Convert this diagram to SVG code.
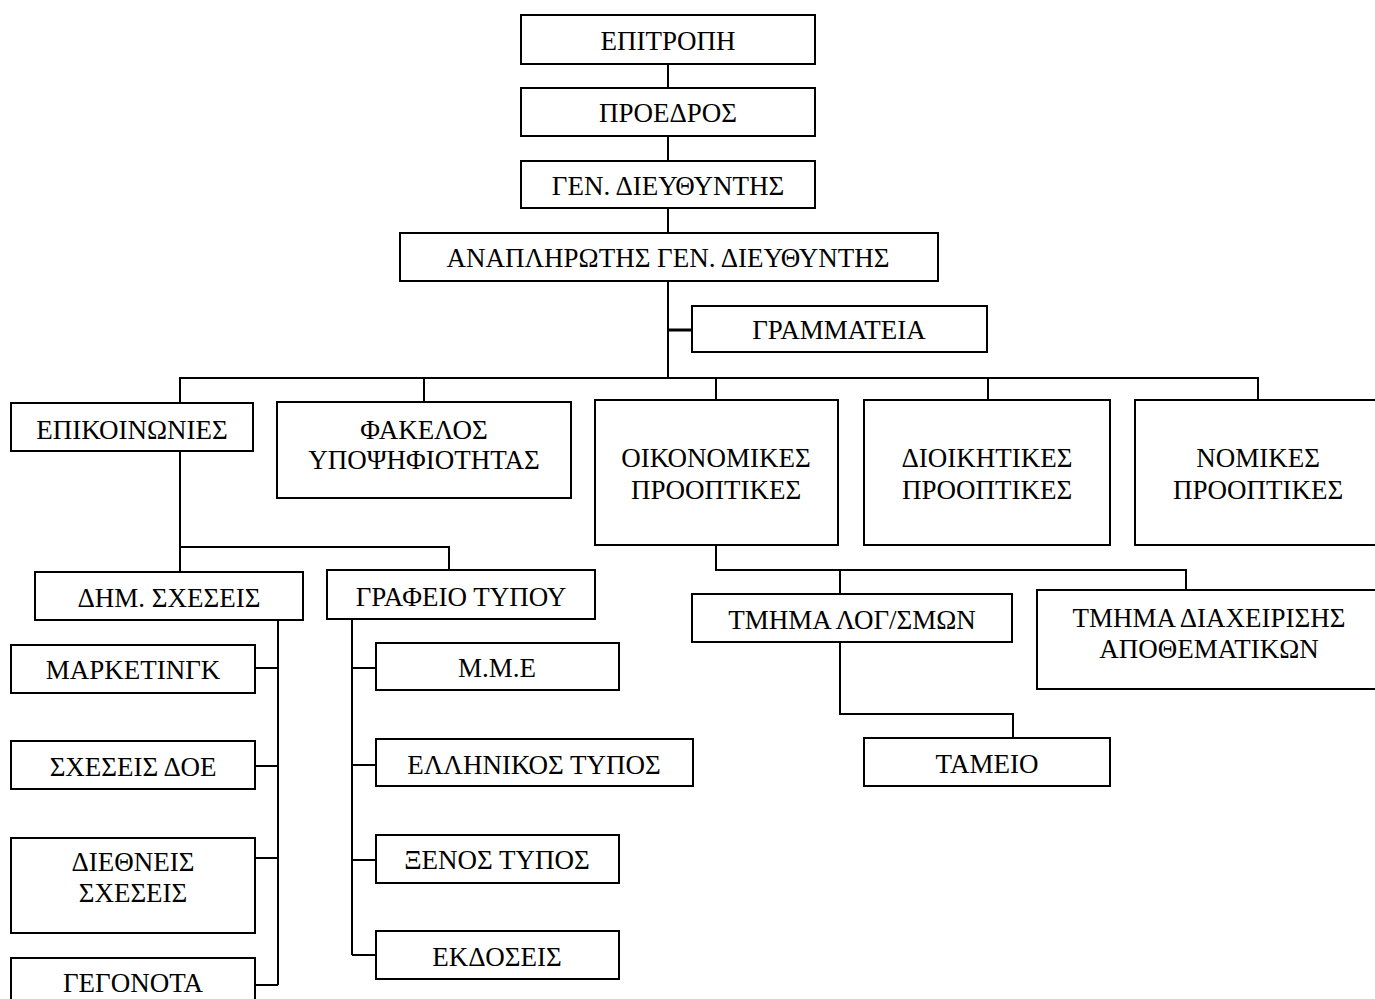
<svg xmlns="http://www.w3.org/2000/svg" width="1375" height="999" viewBox="0 0 1375 999">
<style>
.box{fill:#fff;stroke:#000;stroke-width:2}
.t{font-family:"Liberation Serif","Times New Roman",serif;font-size:27px;fill:#000;text-anchor:middle;dominant-baseline:central}
.c{fill:none;stroke:#000;stroke-width:2}
</style>
<rect width="1375" height="999" fill="#fff"/>
<g id="connectors">
<path class="c" d="M668 64V378"/>
<path class="c" d="M668 330H692" style="stroke-width:3"/>
<path class="c" d="M180 402V378H1258V400M424 378V402M716 378V400M988 378V400"/>
<path class="c" d="M180 451V547H449V570M180 547V572"/>
<path class="c" d="M278 620V985M255 668H278M255 766H278M255 858H278M255 985H278"/>
<path class="c" d="M352 619V955M352 668H376M352 765H376M352 860H376M352 955H376"/>
<path class="c" d="M716 545V570H1186V590M840 570V594"/>
<path class="c" d="M840 642V714H1013V738"/>
</g>
<g id="n1"><rect class="box" x="521" y="15" width="294" height="49"/><text class="t" x="668" y="41">ΕΠΙΤΡΟΠΗ</text></g>
<g id="n2"><rect class="box" x="521" y="88" width="294" height="48"/><text class="t" x="668" y="113">ΠΡΟΕΔΡΟΣ</text></g>
<g id="n3"><rect class="box" x="521" y="161" width="294" height="47"/><text class="t" x="668" y="186">ΓΕΝ. ΔΙΕΥΘΥΝΤΗΣ</text></g>
<g id="n4"><rect class="box" x="400" y="233" width="538" height="48"/><text class="t" x="668" y="258">ΑΝΑΠΛΗΡΩΤΗΣ ΓΕΝ. ΔΙΕΥΘΥΝΤΗΣ</text></g>
<g id="n5"><rect class="box" x="692" y="306" width="295" height="46"/><text class="t" x="839" y="330">ΓΡΑΜΜΑΤΕΙΑ</text></g>
<g id="n6"><rect class="box" x="11" y="403" width="242" height="48"/><text class="t" x="132" y="430">ΕΠΙΚΟΙΝΩΝΙΕΣ</text></g>
<g id="n7"><rect class="box" x="277" y="402" width="294" height="96"/><text class="t" x="424" y="430">ΦΑΚΕΛΟΣ</text><text class="t" x="424" y="460">ΥΠΟΨΗΦΙΟΤΗΤΑΣ</text></g>
<g id="n8"><rect class="box" x="595" y="400" width="243" height="145"/><text class="t" x="716" y="458">ΟΙΚΟΝΟΜΙΚΕΣ</text><text class="t" x="716" y="490">ΠΡΟΟΠΤΙΚΕΣ</text></g>
<g id="n9"><rect class="box" x="864" y="400" width="246" height="145"/><text class="t" x="987" y="458">ΔΙΟΙΚΗΤΙΚΕΣ</text><text class="t" x="987" y="490">ΠΡΟΟΠΤΙΚΕΣ</text></g>
<g id="n10"><rect class="box" x="1135" y="400" width="248" height="145"/><text class="t" x="1258" y="458">ΝΟΜΙΚΕΣ</text><text class="t" x="1258" y="490">ΠΡΟΟΠΤΙΚΕΣ</text></g>
<g id="n11"><rect class="box" x="35" y="572" width="268" height="48"/><text class="t" x="169" y="598">ΔΗΜ. ΣΧΕΣΕΙΣ</text></g>
<g id="n12"><rect class="box" x="327" y="570" width="268" height="49"/><text class="t" x="461" y="597">ΓΡΑΦΕΙΟ ΤΥΠΟΥ</text></g>
<g id="n13"><rect class="box" x="11" y="645" width="244" height="48"/><text class="t" x="133" y="670">ΜΑΡΚΕΤΙΝΓΚ</text></g>
<g id="n14"><rect class="box" x="11" y="741" width="244" height="48"/><text class="t" x="133" y="767">ΣΧΕΣΕΙΣ ΔΟΕ</text></g>
<g id="n15"><rect class="box" x="11" y="838" width="244" height="95"/><text class="t" x="133" y="862">ΔΙΕΘΝΕΙΣ</text><text class="t" x="133" y="893">ΣΧΕΣΕΙΣ</text></g>
<g id="n16"><rect class="box" x="11" y="958" width="244" height="50"/><text class="t" x="133" y="983">ΓΕΓΟΝΟΤΑ</text></g>
<g id="n17"><rect class="box" x="376" y="643" width="243" height="47"/><text class="t" x="497" y="668">Μ.Μ.Ε</text></g>
<g id="n18"><rect class="box" x="376" y="739" width="317" height="47"/><text class="t" x="534" y="765">ΕΛΛΗΝΙΚΟΣ ΤΥΠΟΣ</text></g>
<g id="n19"><rect class="box" x="376" y="835" width="243" height="48"/><text class="t" x="497" y="860">ΞΕΝΟΣ ΤΥΠΟΣ</text></g>
<g id="n20"><rect class="box" x="376" y="931" width="243" height="48"/><text class="t" x="497" y="957">ΕΚΔΟΣΕΙΣ</text></g>
<g id="n21"><rect class="box" x="692" y="594" width="320" height="48"/><text class="t" x="852" y="620">ΤΜΗΜΑ ΛΟΓ/ΣΜΩΝ</text></g>
<g id="n22"><rect class="box" x="1037" y="590" width="346" height="99"/><text class="t" x="1209" y="618">ΤΜΗΜΑ ΔΙΑΧΕΙΡΙΣΗΣ</text><text class="t" x="1209" y="649">ΑΠΟΘΕΜΑΤΙΚΩΝ</text></g>
<g id="n23"><rect class="box" x="864" y="738" width="246" height="48"/><text class="t" x="987" y="764">ΤΑΜΕΙΟ</text></g>
</svg>
